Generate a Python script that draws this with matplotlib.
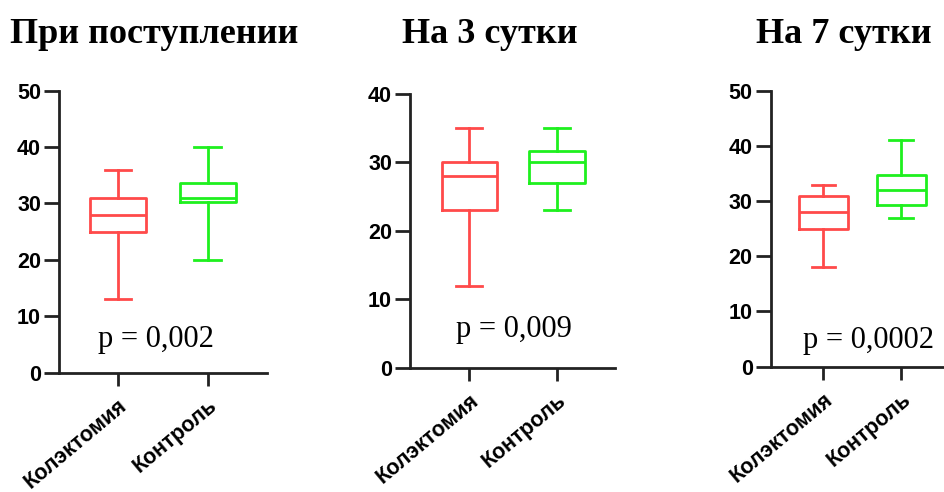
import matplotlib.pyplot as plt

groups = ['Колэктомия', 'Контроль']
titles = ['При поступлении', 'На 3 сутки', 'На 7 сутки']
p_labels = ['p = 0,002', 'p = 0,009', 'p = 0,0002']

# box statistics per panel: [Колэктомия, Контроль]
low = [[13, 20], [12, 23], [18, 27]]
q1 = [[25, 30.2], [23, 27], [25, 29.2]]
median = [[28, 31], [28, 30], [28, 32]]
q3 = [[31, 33.7], [30, 31.7], [31, 34.7]]
high = [[36, 40], [35, 35], [33, 41]]

y_max = [50, 40, 50]
y_step = [10, 10, 10]

colors = ['#ff4a4a', '#1ef01e']

fig = plt.figure(figsize=(9.44, 4.92), dpi=100)

# axes rectangles in figure fractions and x limits for each panel
rects = [
    [0.0625, 0.2425, 0.2203, 0.5732],
    [0.4343, 0.2526, 0.2172, 0.5563],
    [0.8164, 0.2547, 0.1918, 0.5610],
]
xlims = [(-0.656, 1.656), (-0.676, 1.66), (-0.677, 1.65)]
p_pos = [(0.42, 4.6), (0.51, 4.5), (0.575, 3.4)]
title_x = [154, 490, 844]

for i in range(3):
    ax = fig.add_axes(rects[i])
    stats = []
    for j in range(2):
        stats.append(dict(med=median[i][j], q1=q1[i][j], q3=q3[i][j],
                          whislo=low[i][j], whishi=high[i][j], label=groups[j]))
    bp = ax.bxp(stats, positions=[0, 1], widths=0.63, showfliers=False,
                patch_artist=False, manage_ticks=False)
    for j in range(2):
        c = colors[j]
        bp['boxes'][j].set(color=c, linewidth=2)
        bp['medians'][j].set(color=c, linewidth=2)
        for k in (2 * j, 2 * j + 1):
            bp['whiskers'][k].set(color=c, linewidth=2)
            bp['caps'][k].set(color=c, linewidth=2)
            bp['caps'][k].set_xdata([j - 0.15, j + 0.15])

    ax.set_xlim(*xlims[i])
    ax.set_ylim(0, y_max[i])
    ax.set_yticks(range(0, y_max[i] + 1, y_step[i]))
    ax.set_xticks([0, 1])
    ax.set_xticklabels(groups, rotation=40, ha='right', va='top',
                       rotation_mode='anchor', fontsize=15.5,
                       fontweight='bold', family='Liberation Sans')
    for lab in ax.get_yticklabels():
        lab.set_fontsize(15.5)
        lab.set_fontweight('bold')
        lab.set_family('Liberation Sans')
    ax.tick_params(axis='both', width=2, color='#222222')
    ax.tick_params(axis='y', length=11, pad=2)
    ax.tick_params(axis='x', length=9, pad=7)
    for s in ('top', 'right'):
        ax.spines[s].set_visible(False)
    for s in ('left', 'bottom'):
        ax.spines[s].set_linewidth(2)
        ax.spines[s].set_color('#222222')

    ax.text(p_pos[i][0], p_pos[i][1], p_labels[i], ha='center', va='baseline',
            fontsize=22, family='Liberation Serif')

    fig.text(title_x[i] / 944, 1 - 43 / 492, titles[i], ha='center',
             va='baseline', fontsize=26, fontweight='bold',
             family='Liberation Serif')

fig.savefig('out.png', dpi=100)
